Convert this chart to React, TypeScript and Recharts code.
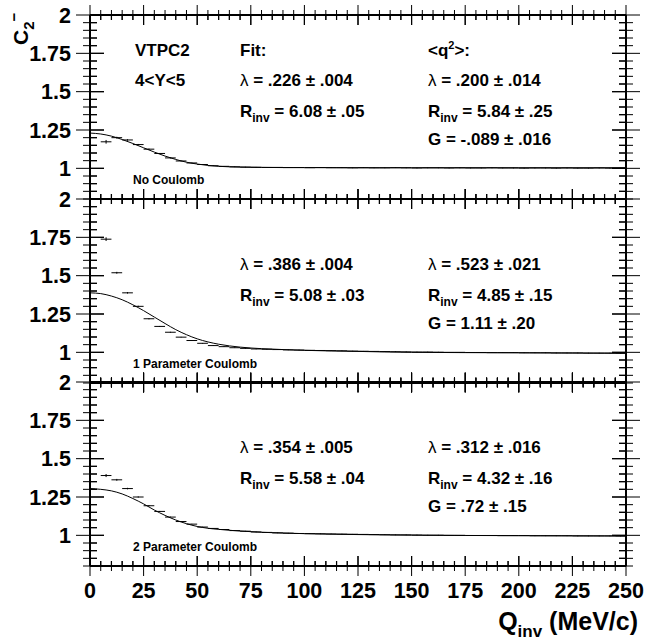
import React from 'react';
import { ComposedChart, Line, Scatter, XAxis, YAxis, ErrorBar, ReferenceLine } from 'recharts';

// ---------- data ----------
const Q_BINS = [
  7.5, 12.5, 17.5, 22.5, 27.5, 32.5, 37.5, 42.5, 47.5, 52.5,
  57.5, 62.5, 67.5, 72.5, 77.5, 82.5, 87.5, 92.5, 97.5, 102.5,
  107.5, 112.5, 117.5, 122.5, 127.5, 132.5, 137.5, 142.5, 147.5, 152.5,
  157.5, 162.5, 167.5, 172.5, 177.5, 182.5, 187.5, 192.5, 197.5, 202.5,
  207.5, 212.5, 217.5, 222.5, 227.5, 232.5, 237.5, 242.5, 247.5,
];
const BIN_HALF_WIDTH = 2.5;

const C2_NO_COULOMB = [
  1.173, 1.200, 1.185, 1.155, 1.125, 1.097, 1.068, 1.048, 1.035, 1.025,
  1.017, 1.013, 1.010, 1.008, 1.007, 1.006, 1.006, 1.005, 1.005, 1.004,
  1.005, 1.004, 1.004, 1.003, 1.004, 1.003, 1.003, 1.004, 1.003, 1.002,
  1.003, 1.003, 1.002, 1.003, 1.002, 1.002, 1.003, 1.002, 1.002, 1.001,
  1.002, 1.002, 1.001, 1.002, 1.001, 1.001, 1.002, 1.001, 1.001,
];
const C2_ONE_PAR = [
  1.738, 1.519, 1.388, 1.300, 1.219, 1.169, 1.131, 1.099, 1.077, 1.059,
  1.044, 1.037, 1.030, 1.026, 1.022, 1.020, 1.018, 1.016, 1.015, 1.013,
  1.012, 1.011, 1.010, 1.008, 1.007, 1.006, 1.005, 1.004, 1.003, 1.002,
  1.002, 1.001, 1.000, 1.000, 0.999, 0.999, 0.998, 0.998, 0.998, 0.997,
  0.997, 0.997, 0.996, 0.996, 0.996, 0.995, 0.995, 0.995, 0.994,
];
const C2_TWO_PAR = [
  1.390, 1.362, 1.305, 1.250, 1.193, 1.156, 1.119, 1.090, 1.073, 1.054,
  1.045, 1.038, 1.031, 1.027, 1.022, 1.019, 1.016, 1.014, 1.012, 1.011,
  1.010, 1.009, 1.008, 1.007, 1.006, 1.005, 1.004, 1.003, 1.003, 1.002,
  1.001, 1.001, 1.000, 1.000, 0.999, 0.999, 0.999, 0.998, 0.998, 0.998,
  0.997, 0.997, 0.997, 0.997, 0.996, 0.996, 0.996, 0.996, 0.995,
];
// vertical errors of the first bins (rest small)
const ERR_NO_COULOMB = [0.012, 0.006, 0.005, 0.004, 0.004, 0.003, 0.003];
const ERR_ONE_PAR = [0.012, 0.006, 0.005, 0.004, 0.004, 0.003, 0.003];
const ERR_TWO_PAR = [0.010, 0.006, 0.005, 0.004, 0.004, 0.003, 0.003];
const ERR_DEFAULT = 0.002;

const CURVE_Q = [0, 5, 10, 15, 20, 25, 30, 35, 40, 45, 50, 55, 60, 65, 70, 80, 90, 100, 125, 150, 200, 250];
const FIT_NO_COULOMB = [1.230, 1.224, 1.210, 1.188, 1.162, 1.134, 1.106, 1.080, 1.058, 1.040, 1.028, 1.019, 1.013, 1.010, 1.008, 1.006, 1.005, 1.005, 1.004, 1.004, 1.004, 1.004];
const FIT_ONE_PAR = [1.388, 1.383, 1.367, 1.343, 1.310, 1.272, 1.230, 1.188, 1.148, 1.115, 1.088, 1.068, 1.053, 1.042, 1.034, 1.024, 1.018, 1.013, 1.006, 1.000, 0.997, 0.994];
const FIT_TWO_PAR = [1.305, 1.300, 1.290, 1.270, 1.240, 1.205, 1.165, 1.130, 1.100, 1.076, 1.058, 1.046, 1.039, 1.033, 1.028, 1.020, 1.015, 1.011, 1.005, 1.001, 0.998, 0.996];

const X_TICKS = [0, 5, 10, 15, 20, 25, 30, 35, 40, 45, 50, 55, 60, 65, 70, 75, 80, 85, 90, 95, 100,
  105, 110, 115, 120, 125, 130, 135, 140, 145, 150, 155, 160, 165, 170, 175, 180, 185, 190, 195, 200,
  205, 210, 215, 220, 225, 230, 235, 240, 245, 250];
const X_LABELS = [0, 25, 50, 75, 100, 125, 150, 175, 200, 225, 250];
const Y_TICKS = [0.8, 0.85, 0.9, 0.95, 1, 1.05, 1.1, 1.15, 1.2, 1.25, 1.3, 1.35, 1.4, 1.45, 1.5,
  1.55, 1.6, 1.65, 1.7, 1.75, 1.8, 1.85, 1.9, 1.95, 2];
const Y_LABELS = [1, 1.25, 1.5, 1.75, 2];

const PANEL_TAGS = ['No Coulomb', '1 Parameter Coulomb', '2 Parameter Coulomb'];
const FIT_LAMBDA = ['.226 \u00b1 .004', '.386 \u00b1 .004', '.354 \u00b1 .005'];
const FIT_RINV = ['6.08 \u00b1 .05', '5.08 \u00b1 .03', '5.58 \u00b1 .04'];
const Q2_LAMBDA = ['.200 \u00b1 .014', '.523 \u00b1 .021', '.312 \u00b1 .016'];
const Q2_RINV = ['5.84 \u00b1 .25', '4.85 \u00b1 .15', '4.32 \u00b1 .16'];
const Q2_G = ['-.089 \u00b1 .016', '1.11 \u00b1 .20', '.72 \u00b1 .15'];

// ---------- layout ----------
const FONT = '"Liberation Sans", Arial, Helvetica, sans-serif';
const W = 648;
const PLOT_LEFT = 90;
const PLOT_RIGHT = 626;
const PH = 184;
const MT = 14;
const PANEL_TOPS = [15, 199, 382];
const X_MIN = 0;
const X_MAX = 250;
const Y_MIN = 0.8;
const Y_MAX = 2;
const PX_PER_Y = PH / (Y_MAX - Y_MIN);
const PX_PER_X = (PLOT_RIGHT - PLOT_LEFT) / (X_MAX - X_MIN);
const X_TICK_MAJOR = 10;
const X_TICK_MINOR = 5;
const Y_TICK_MAJOR = 14;
const Y_TICK_MINOR = 7;

const buildPoints = (vals: number[], errs: number[]) =>
  Q_BINS.map((q, i) => ({ q, c: vals[i], ex: BIN_HALF_WIDTH, ey: errs[i] !== undefined ? errs[i] : ERR_DEFAULT }));
const buildCurve = (vals: number[]) => CURVE_Q.map((q, i) => ({ q, c: vals[i] }));

const near = (a: number, list: number[]) => list.some((b) => Math.abs(a - b) < 1e-6);

// tick anchors on the frame; the symmetric error bar is clipped to the plot so only the inward half shows
const X_TICK_ANCHORS: { q: number; c: number; e: number }[] = [];
X_TICKS.forEach((v) => {
  const e = (near(v, X_LABELS) ? X_TICK_MAJOR : X_TICK_MINOR) / PX_PER_Y;
  X_TICK_ANCHORS.push({ q: v, c: Y_MAX, e }, { q: v, c: Y_MIN, e });
});
const Y_TICK_ANCHORS: { q: number; c: number; e: number }[] = [];
Y_TICKS.forEach((v) => {
  const e = (near(v, Y_LABELS) ? Y_TICK_MAJOR : Y_TICK_MINOR) / PX_PER_X;
  Y_TICK_ANCHORS.push({ q: X_MIN, c: v, e }, { q: X_MAX, c: v, e });
});

// overlay rectangles for the same tick marks (same linear mapping as the axes)
type Box = { x: number; y: number; w: number; h: number };
const tickBoxes = (top: number): Box[] => {
  const bottom = top + PH;
  const out: Box[] = [];
  X_TICKS.forEach((v) => {
    const x = PLOT_LEFT + (v - X_MIN) * PX_PER_X;
    const len = near(v, X_LABELS) ? X_TICK_MAJOR : X_TICK_MINOR;
    out.push({ x: x - 0.6, y: top, w: 1.2, h: len });
    out.push({ x: x - 0.6, y: bottom - len, w: 1.2, h: len });
  });
  Y_TICKS.forEach((v) => {
    const y = top + (Y_MAX - v) * PX_PER_Y;
    const len = near(v, Y_LABELS) ? Y_TICK_MAJOR : Y_TICK_MINOR;
    out.push({ x: PLOT_LEFT, y: y - 0.6, w: len, h: 1.2 });
    out.push({ x: PLOT_RIGHT - len, y: y - 0.6, w: len, h: 1.2 });
  });
  return out;
};

const makeXTick = (showLabel: boolean) => (props: any) => {
  const { x, payload } = props;
  const v = payload.value;
  if (!showLabel || !near(v, X_LABELS)) return <g />;
  return (
    <text x={x} y={MT + PH + 32} textAnchor="middle" fontFamily={FONT} fontWeight="bold" fontSize={21.5} fill="#000">
      {v}
    </text>
  );
};

const YTick = (props: any) => {
  const { y, payload } = props;
  const v = payload.value;
  if (!near(v, Y_LABELS)) return <g />;
  return (
    <text x={71} y={y + 7.5} textAnchor="end" fontFamily={FONT} fontWeight="bold" fontSize={21.5} fill="#000">
      {String(v)}
    </text>
  );
};

const NoShape = () => <g />;

const Panel = ({ top, points, curve, showX }: any) => {
  const xh = showX ? 42 : 10;
  const h = MT + PH + xh;
  return (
    <div style={{ position: 'absolute', left: 0, top: top - MT, width: W, height: h }}>
      <ComposedChart width={W} height={h} margin={{ top: MT, right: W - PLOT_RIGHT, bottom: 0, left: 0 }}>
        <XAxis
          type="number"
          dataKey="q"
          domain={[X_MIN, X_MAX]}
          ticks={X_TICKS}
          interval={0}
          allowDataOverflow
          axisLine={false}
          tickLine={false}
          height={xh}
          tick={makeXTick(showX)}
        />
        <YAxis
          type="number"
          domain={[Y_MIN, Y_MAX]}
          ticks={Y_TICKS}
          interval={0}
          allowDataOverflow
          axisLine={false}
          tickLine={false}
          width={PLOT_LEFT}
          tick={YTick}
        />
        <ReferenceLine x={X_MIN} stroke="#000" strokeWidth={2} ifOverflow="visible" />
        <ReferenceLine x={X_MAX} stroke="#000" strokeWidth={2} ifOverflow="visible" />
        <ReferenceLine y={Y_MIN} stroke="#000" strokeWidth={2} ifOverflow="visible" />
        <ReferenceLine y={Y_MAX} stroke="#000" strokeWidth={2} ifOverflow="visible" />
        <Scatter data={X_TICK_ANCHORS} dataKey="c" shape={NoShape} isAnimationActive={false}>
          <ErrorBar dataKey="e" direction="y" width={0} stroke="#000" strokeWidth={1} isAnimationActive={false} />
        </Scatter>
        <Scatter data={Y_TICK_ANCHORS} dataKey="c" shape={NoShape} isAnimationActive={false}>
          <ErrorBar dataKey="e" direction="x" width={0} stroke="#000" strokeWidth={1} isAnimationActive={false} />
        </Scatter>
        <Line data={curve} dataKey="c" type="monotone" dot={false} activeDot={false} stroke="#000" strokeWidth={1} isAnimationActive={false} />
        <Scatter data={points} dataKey="c" shape={NoShape} isAnimationActive={false}>
          <ErrorBar dataKey="ex" direction="x" width={0} stroke="#000" strokeWidth={1} isAnimationActive={false} />
          <ErrorBar dataKey="ey" direction="y" width={0} stroke="#000" strokeWidth={1} isAnimationActive={false} />
        </Scatter>
      </ComposedChart>
    </div>
  );
};

const HEAD = 41;
const ROW1 = 71;
const ROW2 = 102;
const ROW3 = 130;
const TAG = 169;
const COL_A = 135;
const COL_B = 240;
const COL_C = 428;
const FS = 17;

const Rinv = ({ x, y, value }: any) => (
  <text x={x} y={y} fontSize={FS}>
    R<tspan dy={5} fontSize={12}>inv</tspan>
    <tspan dy={-5}>{' = ' + value}</tspan>
  </text>
);
const Lam = ({ x, y, value }: any) => (
  <text x={x} y={y} fontSize={FS}>
    <tspan fontWeight="normal">{'\u03bb'}</tspan>
    {' = ' + value}
  </text>
);

export default function App() {
  const panels = [
    { points: buildPoints(C2_NO_COULOMB, ERR_NO_COULOMB), curve: buildCurve(FIT_NO_COULOMB) },
    { points: buildPoints(C2_ONE_PAR, ERR_ONE_PAR), curve: buildCurve(FIT_ONE_PAR) },
    { points: buildPoints(C2_TWO_PAR, ERR_TWO_PAR), curve: buildCurve(FIT_TWO_PAR) },
  ];
  return (
    <div style={{ position: 'absolute', left: 0, top: 0, width: W, height: 641, background: '#fff', overflow: 'hidden' }}>
      {panels.map((p, i) => (
        <Panel key={i} top={PANEL_TOPS[i]} points={p.points} curve={p.curve} showX={i === 2} />
      ))}
      <svg
        width={W}
        height={641}
        style={{ position: 'absolute', left: 0, top: 0, pointerEvents: 'none', zIndex: 5 }}
        fontFamily={FONT}
        fontWeight="bold"
      >
        <g fill="#000">
          {PANEL_TOPS.map((t, i) =>
            tickBoxes(t).map((b, j) => <rect key={i + '-' + j} x={b.x} y={b.y} width={b.w} height={b.h} fill="#000" />)
          )}
        </g>
        <g fill="#000">
          {/* Y title */}
          <text transform="translate(28,45) rotate(-90)" fontSize={21}>
            C<tspan dy={6} fontSize={15}>2</tspan>
            <tspan dy={-15} fontSize={15}>{'\u2212'}</tspan>
          </text>
          {/* X title */}
          <text x={638} y={630} textAnchor="end" fontSize={25}>
            Q<tspan dy={7} fontSize={17}>inv</tspan>
            <tspan dy={-7}>{' (MeV/c)'}</tspan>
          </text>
          {/* header of top panel */}
          <text x={COL_A} y={PANEL_TOPS[0] + HEAD} fontSize={FS}>VTPC2</text>
          <text x={COL_A} y={PANEL_TOPS[0] + ROW1} fontSize={FS}>{'4<Y<5'}</text>
          <text x={COL_B} y={PANEL_TOPS[0] + HEAD} fontSize={FS}>Fit:</text>
          <text x={COL_C} y={PANEL_TOPS[0] + HEAD} fontSize={FS}>
            {'<q'}
            <tspan dy={-7} fontSize={11}>2</tspan>
            <tspan dy={7}>{'>:'}</tspan>
          </text>
          {PANEL_TOPS.map((t, i) => (
            <g key={i}>
              <Lam x={COL_B} y={t + ROW1} value={FIT_LAMBDA[i]} />
              <Rinv x={COL_B} y={t + ROW2} value={FIT_RINV[i]} />
              <Lam x={COL_C} y={t + ROW1} value={Q2_LAMBDA[i]} />
              <Rinv x={COL_C} y={t + ROW2} value={Q2_RINV[i]} />
              <text x={COL_C} y={t + ROW3} fontSize={FS}>{'G = ' + Q2_G[i]}</text>
              <text x={133} y={t + TAG} fontSize={12}>{PANEL_TAGS[i]}</text>
            </g>
          ))}
        </g>
      </svg>
    </div>
  );
}
